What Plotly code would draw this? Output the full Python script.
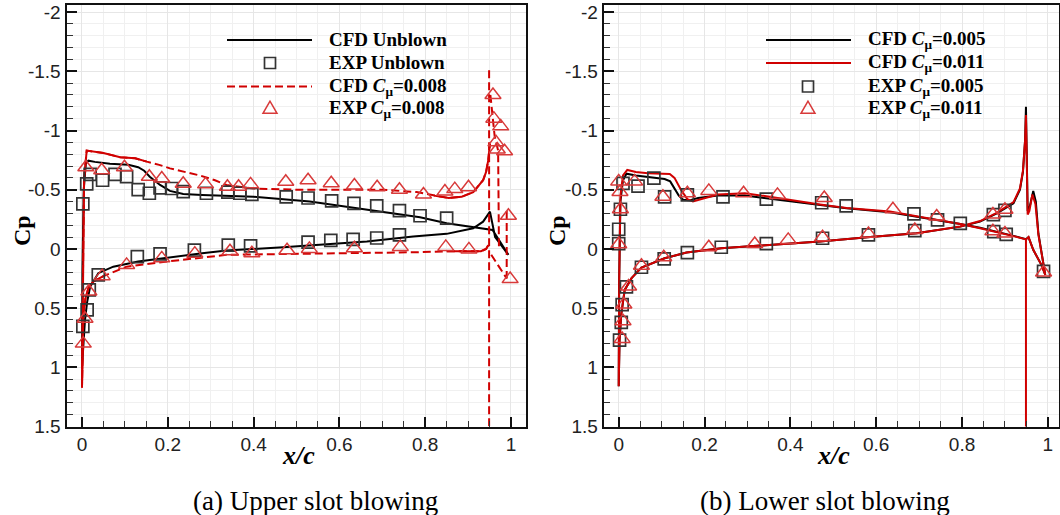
import plotly.graph_objects as go

W, H = 1060, 515

# ---------------- (a) Upper slot blowing ----------------
# CFD unblown (black solid)
ub_upper_x = [0.0, 0.001, 0.004, 0.009, 0.015, 0.03, 0.065, 0.108, 0.131, 0.145, 0.158, 0.17, 0.182, 0.205,
              0.236, 0.28, 0.337, 0.4, 0.531, 0.664, 0.788, 0.85, 0.928, 0.957]
ub_upper_cp = [1.0, 0.2, -0.5, -0.72, -0.745, -0.735, -0.72, -0.71, -0.69, -0.66, -0.61, -0.575, -0.54, -0.49,
               -0.464, -0.456, -0.447, -0.44, -0.40, -0.334, -0.267, -0.216, -0.175, -0.16]
ub_te_x = [0.994, 0.975, 0.963]
ub_te_cp = [0.05, -0.04, -0.1]
ub_lower_x = [0.0, 0.003, 0.007, 0.012, 0.019, 0.038, 0.073, 0.131, 0.205, 0.28, 0.337, 0.469, 0.664, 0.772,
              0.85, 0.912, 0.935, 0.945, 0.951]
ub_lower_cp = [1.0, 0.8, 0.6, 0.45, 0.32, 0.205, 0.15, 0.107, 0.07, 0.037, 0.014, -0.014, -0.062, -0.104,
               -0.127, -0.174, -0.23, -0.28, -0.315]

# CFD Cmu = 0.008 (red dashed)
cu_upper_x = [0.0, 0.002, 0.005, 0.011, 0.03, 0.05, 0.089, 0.124, 0.151, 0.18, 0.205, 0.24, 0.275, 0.31, 0.337,
              0.4, 0.5, 0.6, 0.7, 0.78, 0.82, 0.855, 0.885, 0.912, 0.935, 0.942, 0.947, 0.951]
cu_upper_cp = [1.17, 0.3, -0.6, -0.83, -0.82, -0.81, -0.774, -0.765, -0.737, -0.71, -0.68, -0.65, -0.62, -0.58,
               -0.54, -0.51, -0.5, -0.5, -0.5, -0.48, -0.45, -0.43, -0.44, -0.48, -0.58, -0.65, -0.75, -0.89]
cu_lower_x = [0.0, 0.003, 0.008, 0.015, 0.026, 0.05, 0.104, 0.198, 0.337, 0.5, 0.65, 0.78, 0.85, 0.93, 0.942, 0.947]
cu_lower_cp = [1.17, 0.57, 0.42, 0.33, 0.276, 0.23, 0.15, 0.107, 0.05, 0.04, 0.035, 0.028, 0.02, 0.02, 0.0, -0.03]
cu_jet_x = [0.949, 0.949]
cu_jet_cp = [1.7, -1.52]
cu_coanda_x = [0.952, 0.962, 0.97, 0.971, 0.972]
cu_coanda_cp = [-1.3, -0.95, -0.83, -0.4, 0.0]
cu_tail_x = [0.954, 0.972, 0.99]
cu_tail_cp = [0.05, 0.15, 0.25]
cu_tip_x = [0.99, 0.99]
cu_tip_cp = [-0.32, 0.25]

# Experiment, unblown (squares)
eu_upper_x = [0.002, 0.011, 0.019, 0.048, 0.077, 0.104, 0.131, 0.157, 0.182, 0.209, 0.236, 0.29, 0.34, 0.368,
              0.396, 0.476, 0.527, 0.582, 0.634, 0.687, 0.74, 0.788, 0.85]
eu_upper_cp = [-0.38, -0.55, -0.63, -0.58, -0.63, -0.61, -0.5, -0.47, -0.515, -0.51, -0.484, -0.47, -0.48, -0.47,
               -0.46, -0.44, -0.43, -0.405, -0.385, -0.363, -0.323, -0.28, -0.26]
eu_lower_x = [0.002, 0.012, 0.017, 0.038, 0.129, 0.182, 0.262, 0.341, 0.393, 0.527, 0.58, 0.632, 0.687, 0.74]
eu_lower_cp = [0.655, 0.515, 0.346, 0.22, 0.065, 0.042, 0.01, -0.032, -0.025, -0.058, -0.072, -0.08, -0.092, -0.118]

# Experiment, Cmu = 0.008 (triangles)
ec_upper_x = [0.009, 0.046, 0.099, 0.157, 0.186, 0.236, 0.288, 0.339, 0.365, 0.393, 0.475, 0.527, 0.581, 0.635,
              0.688, 0.74, 0.796, 0.846, 0.869, 0.901]
ec_upper_cp = [-0.69, -0.665, -0.69, -0.61, -0.595, -0.55, -0.545, -0.525, -0.525, -0.545, -0.567, -0.58, -0.555,
               -0.535, -0.52, -0.5, -0.46, -0.484, -0.505, -0.52]
ec_te_x = [0.958, 0.96, 0.976, 0.965, 0.968, 0.985, 0.994]
ec_te_cp = [-1.30, -1.10, -1.035, -0.90, -0.84, -0.825, -0.28]
ec_lower_x = [0.003, 0.007, 0.016, 0.047, 0.104, 0.186, 0.263, 0.345, 0.396, 0.478, 0.53, 0.635, 0.742, 0.848,
              0.902, 0.998]
ec_lower_cp = [0.8, 0.59, 0.36, 0.23, 0.135, 0.08, 0.04, 0.02, 0.037, 0.012, 0.0, -0.006, -0.017, -0.017, 0.004, 0.255]

# ---------------- (b) Lower slot blowing ----------------
b5_upper_x = [0.0, 0.001, 0.004, 0.01, 0.018, 0.04, 0.068, 0.107, 0.12, 0.13, 0.14, 0.15, 0.165, 0.185, 0.231,
              0.294, 0.344, 0.469, 0.531, 0.632, 0.687, 0.741, 0.796, 0.842, 0.881, 0.92, 0.949]
b5_upper_cp = [1.16, 0.3, -0.4, -0.58, -0.635, -0.62, -0.605, -0.59, -0.57, -0.51, -0.45, -0.415, -0.41, -0.43,
               -0.45, -0.45, -0.425, -0.37, -0.343, -0.31, -0.28, -0.245, -0.21, -0.178, -0.146, -0.11, -0.082]
b5_lower_x = [0.0, 0.002, 0.006, 0.014, 0.03, 0.053, 0.107, 0.158, 0.239, 0.344, 0.469, 0.586, 0.694, 0.796,
              0.842, 0.881, 0.92, 0.935, 0.942, 0.947, 0.949]
b5_lower_cp = [1.16, 0.77, 0.55, 0.346, 0.247, 0.157, 0.079, 0.031, -0.006, -0.034, -0.062, -0.1, -0.132, -0.188,
               -0.23, -0.3, -0.386, -0.5, -0.65, -0.92, -1.2]
b5_te_x = [0.953, 0.958, 0.966, 0.972, 0.978, 0.99, 0.994, 0.985, 0.966, 0.955]
b5_te_cp = [-0.32, -0.36, -0.49, -0.4, -0.13, 0.12, 0.22, 0.135, 0.008, -0.1]

r11_upper_x = [0.0, 0.001, 0.004, 0.01, 0.02, 0.04, 0.068, 0.119, 0.13, 0.145, 0.16, 0.173, 0.19, 0.231, 0.294,
               0.344, 0.469, 0.531, 0.632, 0.687, 0.741, 0.796, 0.842, 0.881, 0.92, 0.949]
r11_upper_cp = [1.16, 0.3, -0.45, -0.62, -0.667, -0.65, -0.64, -0.633, -0.6, -0.5, -0.42, -0.4, -0.42, -0.46,
                -0.47, -0.445, -0.375, -0.345, -0.315, -0.28, -0.245, -0.21, -0.175, -0.143, -0.108, -0.08]
r11_lower_x = [0.0, 0.002, 0.006, 0.014, 0.03, 0.053, 0.107, 0.158, 0.239, 0.344, 0.469, 0.586, 0.694, 0.796,
               0.842, 0.881, 0.92, 0.935, 0.942, 0.947, 0.949]
r11_lower_cp = [1.16, 0.77, 0.55, 0.346, 0.247, 0.157, 0.079, 0.031, -0.006, -0.034, -0.062, -0.1, -0.132, -0.19,
                -0.235, -0.305, -0.395, -0.51, -0.66, -0.92, -1.13]
r11_te_x = [0.953, 0.957, 0.964, 0.971, 0.978, 0.99, 0.994, 0.985, 0.966, 0.955]
r11_te_cp = [-0.29, -0.32, -0.46, -0.38, -0.12, 0.12, 0.22, 0.135, 0.008, -0.1]
r11_jet_x = [0.949, 0.949]
r11_jet_cp = [-0.08, 1.7]

e5_upper_x = [0.0, 0.004, 0.01, 0.045, 0.082, 0.107, 0.16, 0.243, 0.344, 0.473, 0.53, 0.688, 0.743, 0.796, 0.874,
              0.903, 0.99]
e5_upper_cp = [-0.166, -0.335, -0.554, -0.53, -0.597, -0.44, -0.456, -0.44, -0.42, -0.39, -0.363, -0.295, -0.245,
               -0.215, -0.146, -0.122, 0.19]
e5_lower_x = [0.0, 0.002, 0.006, 0.008, 0.018, 0.053, 0.106, 0.16, 0.239, 0.344, 0.475, 0.582, 0.69, 0.873, 0.9]
e5_lower_cp = [-0.045, 0.77, 0.62, 0.47, 0.32, 0.155, 0.084, 0.031, -0.014, -0.045, -0.09, -0.118, -0.155, -0.29,
               -0.325]

e11_upper_x = [0.0, 0.003, 0.004, 0.037, 0.103, 0.16, 0.21, 0.291, 0.37, 0.479, 0.639, 0.741, 0.872, 0.9, 0.99]
e11_upper_cp = [-0.57, -0.48, -0.335, -0.57, -0.44, -0.47, -0.49, -0.47, -0.456, -0.43, -0.335, -0.273, -0.15,
                -0.13, 0.2]
e11_lower_x = [0.0, 0.008, 0.01, 0.012, 0.023, 0.053, 0.105, 0.21, 0.317, 0.395, 0.475, 0.582, 0.69, 0.872, 0.9]
e11_lower_cp = [-0.04, 0.76, 0.61, 0.47, 0.318, 0.143, 0.07, -0.014, -0.042, -0.076, -0.099, -0.127, -0.16, -0.29,
                -0.33]

y_ticks = [-2, -1.5, -1, -0.5, 0, 0.5, 1, 1.5]
y_tick_text = ["-2", "-1.5", "-1", "-0.5", "0", "0.5", "1", "1.5"]
x_ticks = [0, 0.2, 0.4, 0.6, 0.8, 1]
x_tick_text = ["0", "0.2", "0.4", "0.6", "0.8", "1"]

BLACK = "#000000"
RED = "#d00000"
TRI = "#d83a3a"
SQ = "#333333"
SERIF = "Liberation Serif, Times New Roman, serif"
SANS = "Liberation Sans, Arial, sans-serif"


def join(*parts):
    """Concatenate coordinate lists, inserting gaps between separate pieces."""
    out = []
    for i, p in enumerate(parts):
        if i:
            out.append(None)
        out.extend(p)
    return out


def masked(xs, ys, keep):
    return [y if keep(x) else None for x, y in zip(xs, ys)]


fig = go.Figure()

# ---- panel (a) ----
ub_x = ub_upper_x + ub_te_x + ub_lower_x[::-1]
ub_y = ub_upper_cp + ub_te_cp + ub_lower_cp[::-1]
fig.add_trace(go.Scatter(x=ub_x, y=ub_y, mode="lines", line=dict(color=BLACK, width=2),
                         xaxis="x", yaxis="y", showlegend=False))

cu_loop_x = cu_lower_x[::-1] + cu_upper_x
cu_loop_y = cu_lower_cp[::-1] + cu_upper_cp
fig.add_trace(go.Scatter(
    x=join(cu_loop_x, cu_jet_x, cu_coanda_x, cu_tail_x, cu_tip_x),
    y=join(cu_loop_y, cu_jet_cp, cu_coanda_cp, cu_tail_cp, cu_tip_cp),
    mode="lines", line=dict(color=RED, width=2, dash="8px,4px"),
    xaxis="x", yaxis="y", showlegend=False))
# densely resolved stretches of the same curve read as solid
fig.add_trace(go.Scatter(
    x=join(cu_lower_x, cu_upper_x),
    y=join(masked(cu_lower_x, cu_lower_cp, lambda x: x <= 0.05 or x >= 0.85),
           masked(cu_upper_x, cu_upper_cp, lambda x: x <= 0.151 or x >= 0.82)),
    mode="lines", line=dict(color=RED, width=2), connectgaps=False,
    xaxis="x", yaxis="y", showlegend=False))

fig.add_trace(go.Scatter(x=eu_upper_x + eu_lower_x, y=eu_upper_cp + eu_lower_cp, mode="markers",
                         marker=dict(symbol="square-open", size=12, color=SQ, line=dict(width=1.7)),
                         xaxis="x", yaxis="y", showlegend=False))
fig.add_trace(go.Scatter(x=ec_upper_x + ec_te_x + ec_lower_x, y=ec_upper_cp + ec_te_cp + ec_lower_cp,
                         mode="markers",
                         marker=dict(symbol="triangle-up-open", size=14, color=TRI, line=dict(width=1.5)),
                         xaxis="x", yaxis="y", showlegend=False))

# ---- panel (b) ----
fig.add_trace(go.Scatter(x=b5_lower_x + b5_te_x + b5_upper_x[::-1],
                         y=b5_lower_cp + b5_te_cp + b5_upper_cp[::-1],
                         mode="lines", line=dict(color=BLACK, width=2),
                         xaxis="x2", yaxis="y2", showlegend=False))
fig.add_trace(go.Scatter(x=join(r11_lower_x + r11_te_x + r11_upper_x[::-1], r11_jet_x),
                         y=join(r11_lower_cp + r11_te_cp + r11_upper_cp[::-1], r11_jet_cp),
                         mode="lines", line=dict(color=RED, width=2),
                         xaxis="x2", yaxis="y2", showlegend=False))
fig.add_trace(go.Scatter(x=e5_upper_x + e5_lower_x, y=e5_upper_cp + e5_lower_cp, mode="markers",
                         marker=dict(symbol="square-open", size=12, color=SQ, line=dict(width=1.7)),
                         xaxis="x2", yaxis="y2", showlegend=False))
fig.add_trace(go.Scatter(x=e11_upper_x + e11_lower_x, y=e11_upper_cp + e11_lower_cp, mode="markers",
                         marker=dict(symbol="triangle-up-open", size=14, color=TRI, line=dict(width=1.5)),
                         xaxis="x2", yaxis="y2", showlegend=False))


def px(x):
    return x / W


def py(y):
    return 1 - y / H


def xaxis_cfg(domain, rng, anchor):
    return dict(domain=domain, range=rng, anchor=anchor, automargin=False,
                tickvals=x_ticks, ticktext=x_tick_text,
                ticks="inside", ticklen=10, tickwidth=2, tickcolor="#111",
                showline=True, linewidth=2, linecolor="#111", mirror=True,
                showgrid=True, gridcolor="#e6e6e6", gridwidth=1, zeroline=False,
                tickfont=dict(family=SANS, size=19, color="#222"),
                minor=dict(dtick=0.05, tick0=0, ticks="inside", ticklen=6, tickwidth=1, tickcolor="#333",
                           showgrid=True, gridcolor="#f0f0f0"))


def yaxis_cfg(domain, anchor):
    return dict(domain=domain, range=[1.5, -2.06], anchor=anchor, automargin=False,
                tickvals=y_ticks, ticktext=y_tick_text,
                ticks="inside", ticklen=10, tickwidth=2, tickcolor="#111",
                showline=True, linewidth=2, linecolor="#111", mirror=True,
                showgrid=True, gridcolor="#e6e6e6", gridwidth=1, zeroline=False,
                tickfont=dict(family=SANS, size=19, color="#222"),
                minor=dict(dtick=0.1, tick0=0, ticks="inside", ticklen=6, tickwidth=1, tickcolor="#333",
                           showgrid=True, gridcolor="#f0f0f0"))


y_dom = [py(426.5), py(5)]
fig.update_layout(
    width=W, height=H, margin=dict(l=0, r=0, t=0, b=0, pad=0, autoexpand=False),
    paper_bgcolor="white", plot_bgcolor="white",
    xaxis=xaxis_cfg([px(66.5), px(526)], [-0.0361, 1.035], "y"),
    yaxis=yaxis_cfg(y_dom, "x"),
    xaxis2=xaxis_cfg([px(603.6), px(1059)], [-0.0352, 1.026], "y2"),
    yaxis2=yaxis_cfg(y_dom, "x2"),
)

annotations = []
shapes = []


def text(x, y, s, size, family=SERIF, anchor="left", angle=0):
    annotations.append(dict(x=px(x), y=py(y), xref="paper", yref="paper", text=s, showarrow=False,
                            xanchor=anchor, yanchor="middle", textangle=angle,
                            font=dict(family=family, size=size, color="#000")))


def legend_line(x0, x1, y, color, dash=None):
    shapes.append(dict(type="line", xref="paper", yref="paper", x0=px(x0), x1=px(x1), y0=py(y), y1=py(y),
                       line=dict(color=color, width=2, dash=dash or "solid")))


def legend_square(cx, cy, s=11):
    shapes.append(dict(type="rect", xref="paper", yref="paper", x0=px(cx - s / 2), x1=px(cx + s / 2),
                       y0=py(cy + s / 2), y1=py(cy - s / 2), line=dict(color=SQ, width=1.7)))


def legend_triangle(cx, cy, s=14):
    h = s * 0.87
    pts = [(cx, cy - h * 0.6), (cx - s / 2, cy + h * 0.4), (cx + s / 2, cy + h * 0.4)]
    path = "M " + " L ".join(f"{px(a):.5f},{py(b):.5f}" for a, b in pts) + " Z"
    shapes.append(dict(type="path", xref="paper", yref="paper", path=path, line=dict(color=TRI, width=1.5)))


rows = [40, 63, 86.5, 108.5]
# legend (a)
legend_line(227, 312, rows[0], BLACK)
legend_square(270, rows[1])
legend_line(227, 312, rows[2], RED, "8px,4px")
legend_triangle(270, rows[3])
text(327, rows[0], "<b>CFD Unblown</b>", 19)
text(327, rows[1], "<b>EXP Unblown</b>", 19)
text(327, rows[2], "<b>CFD <i>C</i><sub>μ</sub>=0.008</b>", 19)
text(327, rows[3], "<b>EXP <i>C</i><sub>μ</sub>=0.008</b>", 19)
# legend (b)
legend_line(766, 851, rows[0], BLACK)
legend_line(766, 851, rows[1], RED)
legend_square(808, rows[2])
legend_triangle(808, rows[3])
text(866, rows[0], "<b>CFD <i>C</i><sub>μ</sub>=0.005</b>", 19)
text(866, rows[1], "<b>CFD <i>C</i><sub>μ</sub>=0.011</b>", 19)
text(866, rows[2], "<b>EXP <i>C</i><sub>μ</sub>=0.005</b>", 19)
text(866, rows[3], "<b>EXP <i>C</i><sub>μ</sub>=0.011</b>", 19)

# axis titles and captions
text(298, 455, "<b><i>x/c</i></b>", 26, anchor="center")
text(833, 455, "<b><i>x/c</i></b>", 26, anchor="center")
text(22, 231, "<b>Cp</b>", 24, anchor="center", angle=-90)
text(557, 231, "<b>Cp</b>", 24, anchor="center", angle=-90)
text(315, 501, "(a) Upper slot blowing", 27, anchor="center")
text(825, 501, "(b) Lower slot blowing", 27, anchor="center")

fig.update_layout(annotations=annotations, shapes=shapes)
fig.write_html("out.html")
